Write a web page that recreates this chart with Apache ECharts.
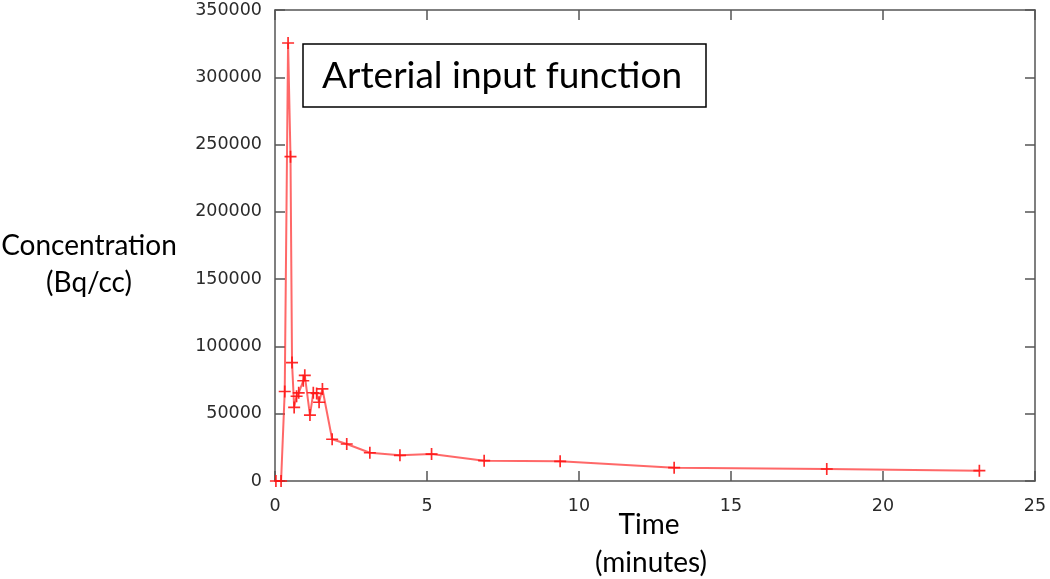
<!DOCTYPE html>
<html>
<head>
<meta charset="utf-8">
<script src="https://cdn.jsdelivr.net/npm/echarts@6/dist/echarts.min.js"></script>
<style>html,body{margin:0;padding:0;background:#fff}#c{width:1050px;height:579px}</style>
</head>
<body>
<div id="c"></div>
<script>
// Time (minutes)
const timeMin = [0.03, 0.2, 0.32, 0.43, 0.51, 0.56, 0.63, 0.71, 0.78, 0.93, 0.98, 1.15, 1.26, 1.37, 1.45, 1.56, 1.88, 2.36, 3.12, 4.11, 5.15, 6.88, 9.38, 13.13, 18.15, 23.17];
// Concentration (Bq/cc)
const concentration = [0, 0, 66500, 325500, 241000, 88000, 54700, 63000, 65500, 74500, 78500, 49000, 65600, 65100, 58500, 68400, 31000, 27500, 21000, 19100, 20000, 15100, 14600, 9900, 8900, 7700];
const xTicks = {min: 0, max: 25, interval: 5};
const yTicks = {min: 0, max: 350000, interval: 50000};
const titleText = 'Arterial input function';
const yLabelLines = ['Concentration', '(Bq/cc)'];
const xLabelLines = ['Time', '(minutes)'];

const chart = echarts.init(document.getElementById('c'), null, {renderer: 'canvas'});
const axisLine = {show: true, onZero: false, lineStyle: {color: '#555', width: 1.5}};
const axisTick = {show: true, inside: true, length: 10, lineStyle: {color: '#555', width: 1.5}};
const tickFont = {fontFamily: 'DejaVu Sans', fontSize: 17.5, color: '#2a2a2a', formatter: v => String(v)};
const plus = 'path://M4.3,0H5.7V4.3H10V5.7H5.7V10H4.3V5.7H0V4.3H4.3Z';

chart.setOption({
  animation: false,
  backgroundColor: '#fff',
  grid: {left: 275, right: 15, top: 10, bottom: 98, containLabel: false},
  xAxis: [
    Object.assign({type: 'value', position: 'bottom', axisLine, axisTick, splitLine: {show: false},
      axisLabel: Object.assign({margin: 16}, tickFont)}, xTicks),
    Object.assign({type: 'value', position: 'top', axisLine, axisTick, splitLine: {show: false},
      axisLabel: {show: false}}, xTicks)
  ],
  yAxis: [
    Object.assign({type: 'value', position: 'left', axisLine, axisTick, splitLine: {show: false},
      axisLabel: Object.assign({margin: 13}, tickFont)}, yTicks),
    Object.assign({type: 'value', position: 'right', axisLine, axisTick, splitLine: {show: false},
      axisLabel: {show: false}}, yTicks)
  ],
  graphic: [
    {type: 'rect', shape: {x: 303, y: 44, width: 403, height: 63},
      style: {fill: '#fff', stroke: '#000', lineWidth: 1.5}, z: 100},
    {type: 'text', x: 502, y: 76, z: 101,
      style: {text: titleText, font: '37px Lato', fill: '#000', align: 'center', verticalAlign: 'middle'}},
    {type: 'text', x: 89, y: 246, style: {text: yLabelLines[0], font: '28px Lato', fill: '#000', align: 'center', verticalAlign: 'middle'}},
    {type: 'text', x: 89, y: 283, style: {text: yLabelLines[1], font: '28px Lato', fill: '#000', align: 'center', verticalAlign: 'middle'}},
    {type: 'text', x: 649, y: 525, style: {text: xLabelLines[0], font: '28px Lato', fill: '#000', align: 'center', verticalAlign: 'middle'}},
    {type: 'text', x: 651, y: 563, style: {text: xLabelLines[1], font: '28px Lato', fill: '#000', align: 'center', verticalAlign: 'middle'}}
  ],
  series: [{
    type: 'line',
    data: timeMin.map((t, i) => [t, concentration[i]]),
    symbol: plus,
    symbolSize: 12,
    showAllSymbol: true,
    lineStyle: {color: 'rgba(255,40,40,0.7)', width: 2},
    itemStyle: {color: 'rgba(255,20,20,0.9)'},
    clip: false
  }]
});
</script>
</body>
</html>
